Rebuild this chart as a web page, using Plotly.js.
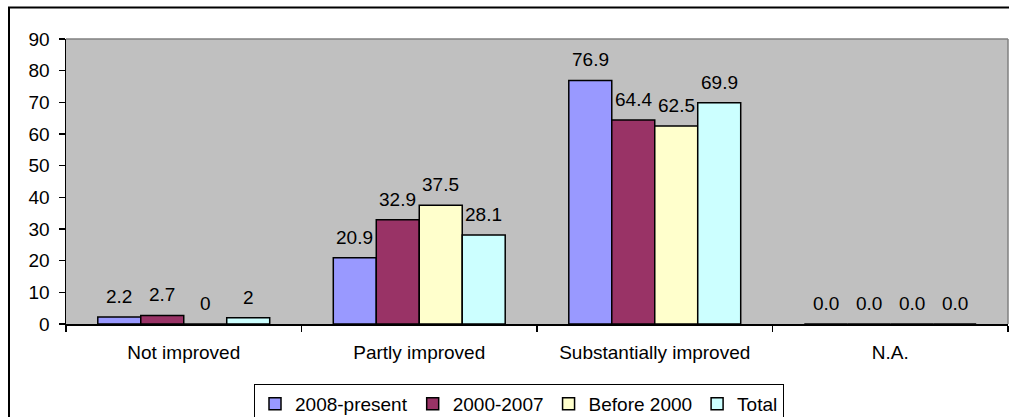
<!DOCTYPE html>
<html>
<head>
<meta charset="utf-8">
<script src="https://cdn.plot.ly/plotly-3.0.1.min.js"></script>
<style>html,body{margin:0;padding:0;background:#fff;}#chart{width:1009px;height:417px;}</style>
</head>
<body>
<div id="chart"></div>
<script>
const categories = ["Not improved", "Partly improved", "Substantially improved", "N.A."];
const seriesNames = ["2008-present", "2000-2007", "Before 2000", "Total"];
const s2008 = [2.2, 20.9, 76.9, 0];
const s2000 = [2.7, 32.9, 64.4, 0];
const sBefore = [0, 37.5, 62.5, 0];
const sTotal = [2, 28.1, 69.9, 0];
const l2008 = ["2.2", "20.9", "76.9", "0.0"];
const l2000 = ["2.7", "32.9", "64.4", "0.0"];
const lBefore = ["0", "37.5", "62.5", "0.0"];
const lTotal = ["2", "28.1", "69.9", "0.0"];
const yTicks = [0, 10, 20, 30, 40, 50, 60, 70, 80, 90];

const values = [s2008, s2000, sBefore, sTotal];
const labels = [l2008, l2000, lBefore, lTotal];
const colors = ["#9999FF", "#993366", "#FFFFCC", "#CCFFFF"];
const FONT = "Arial, 'Liberation Sans', sans-serif";

const W = 1009, H = 417;
const margin = {l: 66, r: 1, t: 39, b: 93, autoexpand: false};
const plotW = W - margin.l - margin.r;
const plotH = H - margin.t - margin.b;
const bargap = 0.27;
const barPx = plotW / categories.length * (1 - bargap) / values.length;

const traces = values.map((v, i) => ({
  type: "bar",
  name: seriesNames[i],
  x: categories,
  y: v,
  marker: {color: colors[i], line: {color: "#000000", width: 1.5}},
  hoverinfo: "none"
}));

const annotations = [];
values.forEach((v, i) => {
  v.forEach((val, j) => {
    annotations.push({
      x: categories[j], y: val, xref: "x", yref: "y",
      text: labels[i][j], showarrow: false,
      xanchor: "center", yanchor: "bottom",
      xshift: (i - (values.length - 1) / 2) * barPx,
      yshift: 8,
      font: {family: FONT, size: 19, color: "#000000"}
    });
  });
});

const px2x = p => (p - margin.l) / plotW;
const px2y = p => (H - margin.b - p) / plotH;

const shapes = [
  {type: "line", xref: "paper", yref: "paper", x0: 0, x1: 1, y0: 1, y1: 1, line: {color: "#808080", width: 1.5}},
  {type: "line", xref: "paper", yref: "paper", x0: 1, x1: 1, y0: 0, y1: 1, line: {color: "#808080", width: 1.5}},
  {type: "rect", xref: "paper", yref: "paper", x0: px2x(9), x1: px2x(1030), y0: px2y(440), y1: px2y(7.5), line: {color: "#000000", width: 2}, fillcolor: "rgba(0,0,0,0)"}
];

const layout = {
  width: W, height: H,
  margin: margin,
  paper_bgcolor: "#FFFFFF",
  plot_bgcolor: "#C0C0C0",
  barmode: "group",
  bargap: bargap,
  bargroupgap: 0,
  showlegend: true,
  font: {family: FONT, size: 19, color: "#000000"},
  xaxis: {
    type: "category",
    tickson: "boundaries",
    ticks: "outside", ticklen: 6, tickwidth: 1.5, tickcolor: "#000000",
    showline: true, linecolor: "#000000", linewidth: 2,
    showgrid: false, zeroline: false,
    tickfont: {family: FONT, size: 19, color: "#000000"},
    ticklabelstandoff: 10,
    automargin: false,
    fixedrange: true
  },
  yaxis: {
    range: [0, 90],
    tickvals: yTicks,
    ticktext: yTicks.map(String),
    ticks: "outside", ticklen: 6, tickwidth: 1.5, tickcolor: "#000000",
    showline: true, linecolor: "#000000", linewidth: 1.5,
    showgrid: false, zeroline: false,
    tickfont: {family: FONT, size: 19, color: "#000000"},
    ticklabelstandoff: 5,
    automargin: false,
    fixedrange: true
  },
  legend: {
    orientation: "h",
    x: px2x(519), xanchor: "center",
    y: px2y(384), yanchor: "top",
    bgcolor: "#FFFFFF",
    bordercolor: "#000000", borderwidth: 1,
    font: {family: FONT, size: 19, color: "#000000"},
    itemclick: false, itemdoubleclick: false
  },
  annotations: annotations,
  shapes: shapes
};

Plotly.newPlot("chart", traces, layout, {staticPlot: true, displayModeBar: false});
</script>
</body>
</html>
